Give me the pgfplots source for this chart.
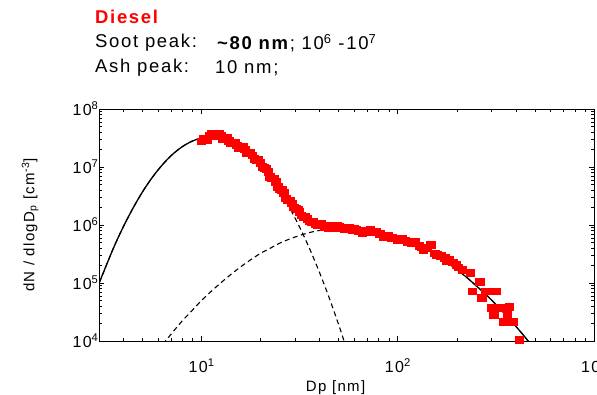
\documentclass[border=0pt]{standalone}
\usepackage{fontspec}
\setmainfont{Liberation Sans}
\newfontfamily\spaced[LetterSpace=9]{Liberation Sans}
\usepackage{pgfplots}
\pgfplotsset{compat=1.18}

\begin{document}
\begin{tikzpicture}
\begin{axis}[
  at={(0,0)}, anchor=south west,
  scale only axis, width=495pt, height=232pt,
  xmode=log, ymode=log,
  xmin=3, xmax=1000, ymin=1e4, ymax=1e8,
  /pgf/number format/assume math mode=true,
  log number format basis/.code 2 args={#1\textsuperscript{\pgfmathprintnumber{#2}}},
  tick label style={font=\spaced\fontsize{16}{16}\selectfont},
  xticklabel style={yshift=-14pt},
  yticklabel style={xshift=3pt},
  major tick length=5pt, minor tick length=3pt,
  tick style={black, line width=0.6pt},
  axis line style={line width=0.8pt},
  xlabel={Dp [nm]},
  ylabel={dN / dlogD\textsubscript{p} [cm\textsuperscript{-3}]},
  every axis x label/.style={at={(axis description cs:0.478,-0.2)}, anchor=center, font=\spaced\fontsize{15}{15}\selectfont},
  every axis y label/.style={at={(axis description cs:-0.139,0.5)}, rotate=90, anchor=center, font=\spaced\fontsize{15}{15}\selectfont},
  clip=true,
]
% measured size distribution
\addplot[only marks, mark=square*, mark size=3.3pt,
  mark options={xscale=1.3, fill=red, draw=red, line width=0pt}] table {
Dp N
10.0 2.75e7
10.23 3.09e7
10.47 2.95e7
10.72 2.95e7
10.96 3.39e7
11.22 3.80e7
11.48 3.63e7
11.75 3.39e7
12.02 3.55e7
12.30 3.72e7
12.59 3.39e7
12.88 3.02e7
13.18 3.09e7
13.49 3.16e7
13.80 2.82e7
14.13 2.57e7
14.45 2.63e7
14.79 2.63e7
15.14 2.34e7
15.49 2.14e7
15.85 2.14e7
16.22 2.19e7
16.60 2.00e7
16.98 1.74e7
17.38 1.70e7
17.78 1.74e7
18.20 1.58e7
18.62 1.38e7
19.05 1.32e7
19.50 1.32e7
19.95 1.17e7
20.42 1.00e7
20.89 9.55e6
21.38 9.33e6
21.88 8.13e6
22.39 6.76e6
22.91 6.31e6
23.44 6.31e6
23.99 5.50e6
24.55 4.47e6
25.12 4.07e6
25.70 3.98e6
26.30 3.55e6
26.92 2.88e6
27.54 2.63e6
28.18 2.63e6
28.84 2.34e6
29.51 2.00e6
30.20 1.91e6
30.90 1.86e6
31.62 1.66e6
32.36 1.45e6
33.11 1.38e6
33.88 1.38e6
34.67 1.26e6
35.48 1.15e6
36.31 1.12e6
37.15 1.12e6
38.02 1.05e6
38.90 9.77e5
39.81 1.00e6
40.74 1.05e6
41.69 9.77e5
42.66 9.33e5
43.65 9.12e5
44.67 8.71e5
45.71 9.55e5
46.77 9.12e5
47.86 8.91e5
48.98 9.55e5
50.12 9.33e5
51.29 8.91e5
52.48 8.71e5
53.70 8.32e5
54.95 8.91e5
56.23 9.12e5
57.54 8.32e5
58.88 8.13e5
60.26 8.51e5
61.66 8.32e5
63.10 7.94e5
66.07 7.24e5
69.18 7.94e5
72.44 8.32e5
74.13 7.41e5
77.62 7.59e5
81.28 6.92e5
85.11 6.17e5
89.13 6.61e5
93.33 6.03e5
97.72 5.89e5
100.0 5.50e5
104.7 5.75e5
109.6 5.37e5
112.2 5.13e5
117.5 4.79e5
123.0 5.13e5
128.8 4.37e5
131.8 4.07e5
134.9 3.72e5
141.3 3.98e5
147.9 4.57e5
154.9 3.24e5
158.5 3.02e5
166.0 2.95e5
173.8 2.69e5
177.8 2.34e5
182.0 2.51e5
190.5 2.24e5
199.5 2.04e5
204.2 1.86e5
213.8 1.66e5
234.4 1.48e5
239.9 7.08e4
263.0 1.05e5
269.2 5.50e4
281.8 7.08e4
302.0 3.72e4
309.0 2.82e4
316.2 7.08e4
338.8 3.72e4
346.7 2.14e4
363.1 2.82e4
371.5 3.89e4
389.0 2.14e4
416.9 1.05e4
};
% first lognormal mode
\addplot[black, line width=1.1pt, dash pattern=on 5pt off 3.5pt, smooth] table {
Dp N
3.0 9.82e4
3.548 3.94e5
3.981 9.14e5
4.467 1.94e6
5.012 3.78e6
5.623 6.71e6
6.310 1.09e7
7.079 1.63e7
7.943 2.22e7
8.913 2.77e7
10.0 3.17e7
11.22 3.31e7
12.59 3.17e7
14.13 2.77e7
15.85 2.22e7
17.78 1.63e7
19.95 1.09e7
22.39 6.71e6
25.12 3.78e6
28.18 1.94e6
31.62 9.14e5
35.48 3.94e5
39.81 1.55e5
44.67 5.60e4
50.12 1.85e4
56.23 5.58e3
63.10 1.55e3
};
% second lognormal mode
\addplot[black, line width=1.1pt, dash pattern=on 5pt off 3.5pt, smooth] table {
Dp N
5.623 5.13e3
6.310 8.51e3
7.079 1.38e4
7.943 2.19e4
8.913 3.31e4
10.0 5.01e4
11.22 7.24e4
12.59 1.02e5
14.13 1.41e5
15.85 1.91e5
17.78 2.51e5
19.95 3.24e5
22.39 3.98e5
25.12 4.90e5
28.18 5.75e5
31.62 6.61e5
35.48 7.41e5
39.81 8.04e5
44.67 8.51e5
50.12 8.83e5
56.23 8.91e5
63.10 8.75e5
70.79 8.36e5
79.43 7.76e5
89.13 7.08e5
100 6.31e5
112.2 5.37e5
125.9 4.47e5
141.3 3.72e5
158.5 2.95e5
177.8 2.29e5
199.5 1.70e5
223.9 1.26e5
251.2 8.91e4
281.8 6.31e4
316.2 4.27e4
354.8 2.82e4
398.1 1.82e4
446.7 1.15e4
501.2 6.92e3
562.3 4.17e3
};
% bimodal fit (sum of both modes)
\addplot[black, line width=1.3pt, smooth] table {
Dp N
3.0 9.84e4
3.548 3.94e5
3.981 9.15e5
4.467 1.94e6
5.012 3.78e6
5.623 6.71e6
6.310 1.09e7
7.079 1.63e7
7.943 2.22e7
8.913 2.77e7
10.0 3.17e7
11.22 3.32e7
12.59 3.18e7
14.13 2.79e7
15.85 2.24e7
17.78 1.66e7
19.95 1.12e7
22.39 7.11e6
25.12 4.27e6
28.18 2.52e6
31.62 1.57e6
35.48 1.14e6
39.81 9.59e5
44.67 9.08e5
50.12 9.02e5
56.23 8.95e5
63.10 8.77e5
70.79 8.36e5
79.43 7.76e5
89.13 7.08e5
100 6.31e5
112.2 5.37e5
125.9 4.47e5
141.3 3.72e5
158.5 2.95e5
177.8 2.29e5
199.5 1.70e5
223.9 1.26e5
251.2 8.91e4
281.8 6.31e4
316.2 4.27e4
354.8 2.82e4
398.1 1.82e4
446.7 1.15e4
501.2 6.92e3
562.3 4.17e3
};
\end{axis}
% heading text
\node[anchor=west, inner sep=0pt, text=red, font=\spaced\fontsize{18.5}{20}\selectfont\bfseries] at (-4pt,324pt) {Diesel};
\node[anchor=west, inner sep=0pt, font=\spaced\fontsize{18.5}{20}\selectfont] at (-4pt,298pt) {Soot peak:};
\node[anchor=west, inner sep=0pt, font=\spaced\fontsize{18.5}{20}\selectfont] at (118pt,298pt) {\textbf{\textasciitilde 80 nm}; 10\textsuperscript{6} -10\textsuperscript{7}};
\node[anchor=west, inner sep=0pt, font=\spaced\fontsize{18.5}{20}\selectfont] at (-4pt,273pt) {Ash peak:};
\node[anchor=west, inner sep=0pt, font=\spaced\fontsize{18.5}{20}\selectfont] at (116pt,273pt) {10 nm;};
\pgfresetboundingbox
\path[use as bounding box] (-99pt,-54pt) rectangle (498pt,341pt);
\end{tikzpicture}
\end{document}
